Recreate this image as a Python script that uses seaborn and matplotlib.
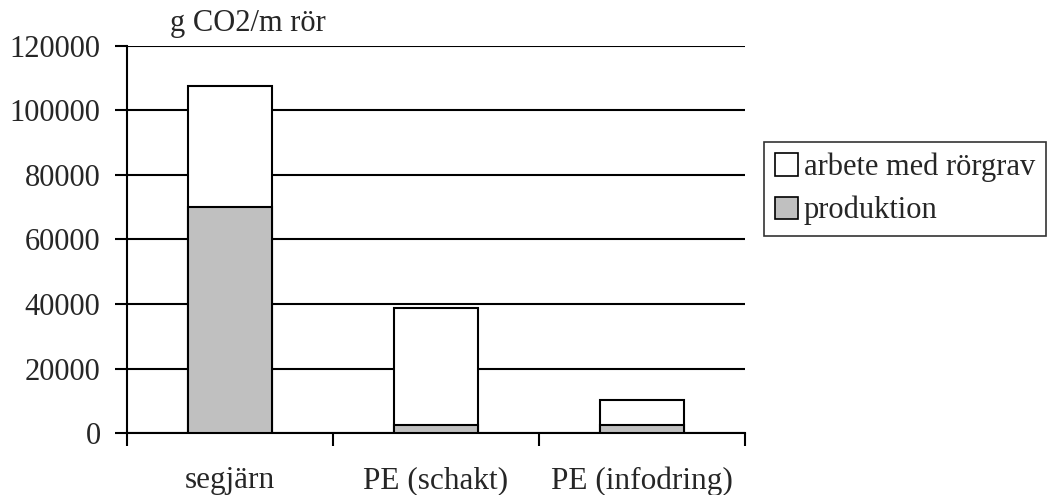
import matplotlib
matplotlib.use("Agg")
import matplotlib.pyplot as plt
import seaborn as sns
import pandas as pd
from matplotlib.patches import Patch

categories = ["segjärn", "PE (schakt)", "PE (infodring)"]
produktion = [70000, 2500, 2500]
arbete = [37600, 36200, 7700]
yticks = [0, 20000, 40000, 60000, 80000, 100000, 120000]

totals = [p + a for p, a in zip(produktion, arbete)]
df = pd.DataFrame({"kategori": categories, "total": totals, "produktion": produktion})

sns.set_theme(style="white")
plt.rcParams["font.family"] = ["Liberation Serif", "DejaVu Serif"]
FS = 22

fig = plt.figure(figsize=(10.48, 4.95), dpi=100)
ax = fig.add_axes([127/1048, 1-433/495, (745-127)/1048, (433-46)/495])

sns.barplot(data=df, x="kategori", y="total", color="white", edgecolor="black",
            linewidth=1.5, width=0.41, ax=ax, zorder=3)
sns.barplot(data=df, x="kategori", y="produktion", color="#C0C0C0", edgecolor="black",
            linewidth=1.5, width=0.41, ax=ax, zorder=4, saturation=1)

ax.set_xlim(-0.5, 2.5)
ax.set_ylim(0, 120000)
ax.set_yticks(yticks)
ax.set_yticklabels([str(v) for v in yticks], fontsize=FS)
ax.yaxis.grid(True, color="black", linewidth=1.5)
ax.set_axisbelow(True)
ax.set_xlabel("")
ax.set_ylabel("")

ax.set_xticks([0, 1, 2])
ax.set_xticklabels(categories, fontsize=FS + 0.5)
ax.tick_params(axis="x", which="major", length=0, pad=24)
ax.set_xticks([-0.5, 0.5, 1.5, 2.5], minor=True)
ax.tick_params(axis="x", which="minor", length=9, width=1.5, color="black", direction="out", bottom=True)
ax.tick_params(axis="y", length=9, width=1.5, color="black", direction="out", left=True, pad=10)

for s in ["top", "right"]:
    ax.spines[s].set_visible(False)
for s in ["left", "bottom"]:
    ax.spines[s].set_color("black")
    ax.spines[s].set_linewidth(1.5)

ax.text(0.07, 1.02, "g CO2/m rör", transform=ax.transAxes, fontsize=FS,
        ha="left", va="bottom")

handles = [Patch(facecolor="white", edgecolor="black", linewidth=1.2, label="arbete med rörgrav"),
           Patch(facecolor="#C0C0C0", edgecolor="black", linewidth=1.2, label="produktion")]
leg = fig.legend(handles=handles, loc="upper left", bbox_to_anchor=(764/1048, 1-142/495),
                 fontsize=FS, frameon=True, fancybox=False, edgecolor="black",
                 handlelength=0.75, handleheight=0.75, handletextpad=0.2,
                 borderpad=0.35, labelspacing=0.45, borderaxespad=0)
leg.get_frame().set_linewidth(1.2)

fig.savefig("out.png", dpi=100)
